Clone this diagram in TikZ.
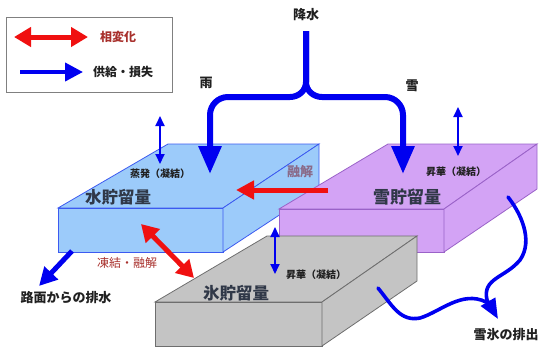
\documentclass[tikz,border=0pt]{standalone}
\usepackage{fontspec}
\setmainfont{Noto Sans CJK JP}
\usetikzlibrary{arrows.meta}
\definecolor{wfill}{HTML}{9CCBFA}
\definecolor{wedge}{HTML}{3C5AF0}
\definecolor{sfill}{HTML}{D3A3F5}
\definecolor{sedge}{HTML}{9A62C8}
\definecolor{ifill}{HTML}{C4C4C4}
\definecolor{iedge}{HTML}{6E6E6E}
\definecolor{flowblue}{HTML}{0000F0}
\definecolor{phred}{HTML}{F01010}
\definecolor{lbred}{HTML}{A8302C}
\definecolor{lbpurple}{HTML}{8A6A88}
\definecolor{lbdark}{HTML}{202020}
\definecolor{lbbig}{HTML}{303848}
\tikzset{
  wbox/.style={fill=wfill,draw=wedge,line width=0.8pt,line join=miter},
  sbox/.style={fill=sfill,draw=sedge,line width=0.8pt},
  ibox/.style={fill=ifill,draw=iedge,line width=0.8pt},
  thickflow/.style={draw=flowblue,line width=6pt,-{Triangle[width=22pt,length=28pt]}},
  flowarrow/.style={draw=flowblue,line width=5pt,-{Triangle[width=18pt,length=18pt]}},
  curveflow/.style={draw=flowblue,line width=3.6pt,line cap=round},
  thinflow/.style={draw=flowblue,line width=1.8pt,{Triangle[width=9pt,length=10pt]}-{Triangle[width=9pt,length=10pt]}},
  phase/.style={draw=phred,line width=5pt,{Triangle[width=19pt,length=17pt]}-{Triangle[width=19pt,length=17pt]}},
  lab/.style={inner sep=0pt,text=lbdark,font=\bfseries\fontsize{13}{15}\selectfont},
  biglab/.style={inner sep=0pt,text=lbbig,font=\bfseries\fontsize{16.5}{18}\selectfont},
  smalllab/.style={inner sep=0pt,text=lbdark,font=\bfseries\fontsize{10}{12}\selectfont},
}
\begin{document}
\begin{tikzpicture}[x=1pt,y=-1pt]
\useasboundingbox (0,0) rectangle (544,349);
% legend
\node[draw=gray,line width=0.8pt,minimum width=166pt,minimum height=75pt,inner sep=0pt] (legend) at (89,54.5) {};
\coordinate (lr1) at (14,37); \coordinate (lr2) at (88,37);
\draw[phase] (lr1) -- (lr2);
\node[inner sep=0pt,text=lbred,font=\bfseries\fontsize{12}{14}\selectfont] (lphase) at (118,37) {相変化};
\coordinate (lb1) at (20,72); \coordinate (lb2) at (83,72);
\draw[flowarrow,line width=4pt] (lb1) -- (lb2);
\node[lab,font=\bfseries\fontsize{12}{14}\selectfont] (lflow) at (123,72) {供給・損失};

% water box
\draw[wbox] (58,208) -- (168,144) -- (319,144) -- (223,208) -- cycle;
\draw[wbox] (58,208) rectangle (223,252);
\draw[wbox] (223,208) -- (319,144) -- (319,189) -- (223,252) -- cycle;
% snow box
\draw[sbox] (279,209) -- (388,144) -- (537,144) -- (444,209) -- cycle;
\draw[sbox] (279,209) rectangle (444,252);
\draw[sbox] (444,209) -- (537,144) -- (537,189) -- (444,252) -- cycle;
% ice box
\draw[ibox] (155,302) -- (267,236) -- (417,236) -- (322,302) -- cycle;
\draw[ibox] (155,302) rectangle (322,346);
\draw[ibox] (322,302) -- (417,236) -- (417,281) -- (322,346) -- cycle;

% precipitation
\node[lab] (precip) at (306,15) {降水};
\node[lab] (rain) at (206,83) {雨};
\node[lab] (snow) at (412,86) {雪};
\coordinate (ptop) at (306,31);
\coordinate (rainTip) at (210,174);
\coordinate (snowTip) at (403,174);
\draw[thickflow] (ptop) -- (306,82) to[out=-90,in=0] (290,97) -- (228,97) to[out=180,in=90] (210,115) -- (rainTip);
\draw[thickflow] (ptop) -- (306,82) to[out=-90,in=180] (322,97) -- (385,97) to[out=0,in=90] (403,115) -- (snowTip);

% water labels
\coordinate (ev1) at (160,116); \coordinate (ev2) at (160,164);
\draw[thinflow] (ev1) -- (ev2);
\node[smalllab] (evap) at (160,174) {蒸発（凝結）};
\node[biglab] (wlab) at (118,197) {水貯留量};
\node[inner sep=0pt,text=lbpurple,font=\bfseries\fontsize{13}{15}\selectfont] (melt) at (300,172) {融解};
\coordinate (m1) at (328,190); \coordinate (m2) at (236,190);
\draw[draw=phred,line width=5pt,-{Triangle[width=18pt,length=18pt]}] (m1) -- (m2);

% snow labels
\coordinate (ss1) at (458,107); \coordinate (ss2) at (458,156);
\draw[thinflow] (ss1) -- (ss2);
\node[smalllab] (subs) at (456,172) {昇華（凝結）};
\node[biglab,font=\bfseries\fontsize{17}{19}\selectfont] (slab) at (407,197) {雪貯留量};

% freeze/melt
\coordinate (f1) at (141,224); \coordinate (f2) at (194,278);
\draw[phase] (f1) -- (f2);
\node[inner sep=0pt,text=lbred,font=\fontsize{12}{14}\selectfont] (fm) at (127,263) {凍結・融解};

% drainage
\coordinate (d1) at (72,251); \coordinate (d2) at (39,286);
\draw[flowarrow] (d1) -- (d2);
\node[lab] (drain) at (66,298) {路面からの排水};

% ice labels
\coordinate (is1) at (275,227); \coordinate (is2) at (275,274);
\draw[thinflow] (is1) -- (is2);
\node[smalllab] (isub) at (316,275) {昇華（凝結）};
\node[biglab] (ilab) at (236,293) {氷貯留量};

% discharge
\coordinate (sc0) at (508,197);
\coordinate (exTip) at (498,319);
\coordinate (ic0) at (378,288);
\draw[curveflow] (ic0) .. controls (392,305) and (400,322) .. (420,318) .. controls (440,312) and (462,290) .. (486,302);
\draw[curveflow,-{Triangle[width=16pt,length=20pt]}] (sc0) .. controls (520,212) and (534,240) .. (520,260) .. controls (505,278) and (482,278) .. (487,300) -- (exTip);
\node[lab] (exlab) at (506,335) {雪氷の排出};
\end{tikzpicture}
\end{document}
